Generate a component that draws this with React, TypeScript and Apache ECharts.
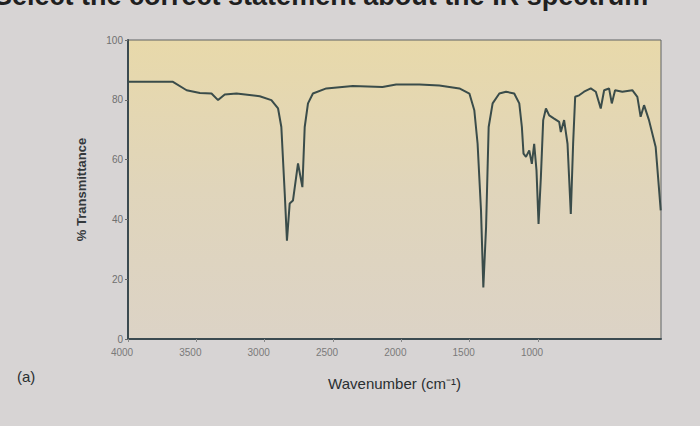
import React, { useEffect, useRef } from "react";
import * as echarts from "echarts";

// Wavenumber (cm^-1) and % transmittance
const wavenumbers = [
  4000, 3671, 3571, 3474, 3389, 3341, 3292, 3206, 3036, 2951, 2902, 2878, 2853, 2837,
  2817, 2793, 2756, 2724, 2707, 2683, 2647, 2549, 2355, 2138, 2038, 1868, 1722,
  1575, 1502, 1466, 1442, 1417, 1400, 1380, 1361, 1332, 1283, 1234, 1174, 1137,
  1118, 1106, 1088, 1064, 1045, 1028, 1011, 996, 979, 962, 942, 918, 882, 845,
  833, 809, 784, 760, 743, 728, 699, 663, 614, 577, 541, 516, 480, 460, 436, 383,
  310, 273, 249, 224, 188, 139, 102,
];
const transmittance = [
  86.0, 86.0, 83.2, 82.3, 82.1, 79.9, 81.8, 82.1, 81.2, 79.9, 77.1, 70.9, 48.6, 32.9,
  45.3, 46.3, 58.7, 50.8, 70.9, 78.8, 82.1, 83.8, 84.6, 84.3, 85.1, 85.1, 84.8,
  83.8, 82.1, 76.5, 65.3, 43.0, 17.2, 37.4, 70.9, 78.8, 82.1, 82.7, 82.1, 78.8,
  70.9, 62.0, 60.9, 63.1, 58.6, 65.3, 56.4, 38.5, 54.1, 73.2, 77.1, 74.8, 73.7, 72.6,
  69.2, 73.2, 65.3, 41.8, 65.3, 81.0, 81.5, 82.7, 83.8, 82.7, 77.1, 83.2, 83.8, 78.8, 83.2, 82.7,
  83.2, 81.0, 74.3, 78.2, 73.2, 64.2, 43.0,
];
const xTickValues = [4000, 3500, 3000, 2500, 2000, 1500, 1000];
const yTickValues = [0, 20, 40, 60, 80, 100];

export default function App() {
  const ref = useRef<HTMLDivElement>(null);
  useEffect(() => {
    if (!ref.current) return;
    const chart = echarts.init(ref.current, undefined, { renderer: "svg" });
    const data = wavenumbers.map((w, i) => [w, transmittance[i]]);
    chart.setOption({
      animation: false,
      backgroundColor: "#d7d4d4",
      grid: {
        left: 128,
        right: 39,
        top: 40,
        bottom: 87,
        show: true,
        borderColor: "#5e6264",
        borderWidth: 1,
        backgroundColor: new echarts.graphic.LinearGradient(0, 0, 0, 1, [
          { offset: 0, color: "#e8d9aa" },
          { offset: 0.5, color: "#e0d5bb" },
          { offset: 1, color: "#dcd3c6" },
        ]),
      },
      xAxis: {
        type: "value",
        inverse: true,
        min: 100,
        max: 4000,
        name: "Wavenumber (cm\u207B\u00B9)",
        nameLocation: "middle",
        nameGap: 37,
        nameTextStyle: { fontFamily: "Liberation Sans", fontSize: 15, color: "#2a2f31" },
        axisLine: { show: true, lineStyle: { color: "#3b4a50", width: 2 } },
        axisTick: { show: true, customValues: xTickValues, length: 3, lineStyle: { color: "#8a8a8a" } },
        axisLabel: {
          customValues: xTickValues,
          formatter: (v: number) => String(v),
          fontFamily: "Liberation Sans",
          fontSize: 10,
          color: "#7a7a7a",
          margin: 8,
          padding: [0, 12, 0, 0],
        },
        splitLine: { show: false },
      },
      yAxis: {
        type: "value",
        min: 0,
        max: 100,
        interval: 20,
        name: "% Transmittance",
        nameLocation: "middle",
        nameGap: 40,
        nameTextStyle: { fontFamily: "Liberation Sans", fontSize: 13, fontWeight: "bold", color: "#34393c" },
        axisLine: { show: true, lineStyle: { color: "#3b4a50", width: 2 } },
        axisTick: { show: true, length: 3, lineStyle: { color: "#6a6a6a" } },
        axisLabel: {
          customValues: yTickValues,
          formatter: (v: number) => String(v),
          fontFamily: "Liberation Sans",
          fontSize: 10,
          color: "#6f6f6f",
          margin: 5,
        },
        splitLine: { show: false },
      },
      series: [
        {
          type: "line",
          data,
          showSymbol: false,
          smooth: false,
          lineStyle: { color: "#3a4c4a", width: 2 },
        },
      ],
      graphic: [
        {
          type: "text",
          left: -6,
          top: -18,
          style: {
            text: "Select the correct statement about the IR spectrum",
            fontFamily: "Liberation Sans",
            fontSize: 27,
            fontWeight: "bold",
            fill: "#1f1f1f",
          },
        },
        {
          type: "text",
          left: 17,
          top: 369,
          style: {
            text: "(a)",
            fontFamily: "Liberation Sans",
            fontSize: 15,
            fill: "#2a2f31",
          },
        },
      ],
    });
    return () => chart.dispose();
  }, []);
  return (
    <div
      ref={ref}
      style={{ position: "fixed", left: 0, top: 0, width: 700, height: 426, background: "#d7d4d4" }}
    />
  );
}
